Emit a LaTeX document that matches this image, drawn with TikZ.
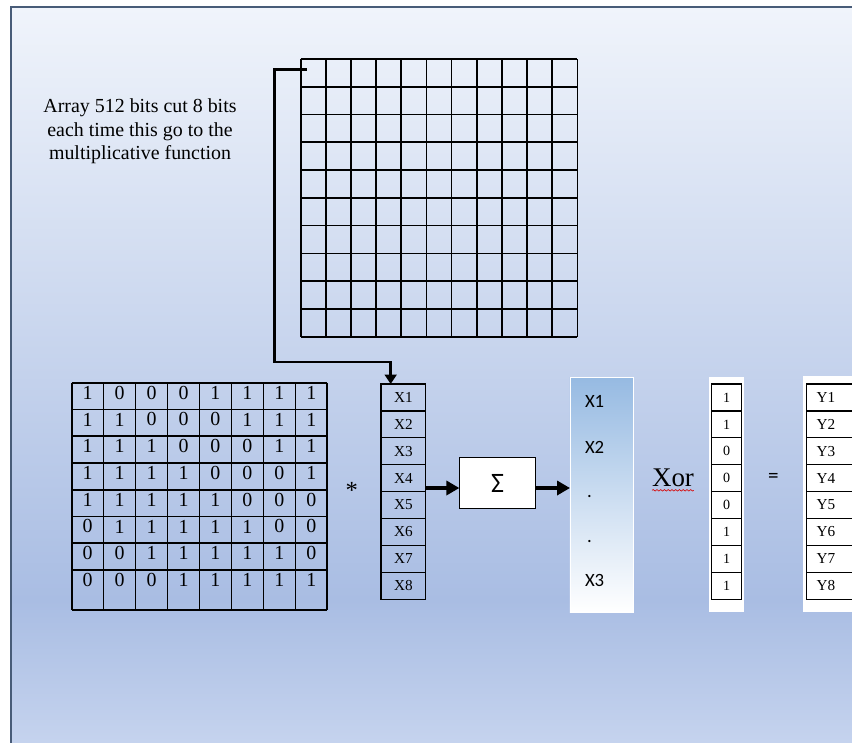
\documentclass[tikz,border=0pt]{standalone}
\usepackage{fontspec}
\setmainfont{Liberation Serif}
\newfontfamily\calibfont{Carlito}
\usetikzlibrary{arrows.meta,decorations.pathmorphing}

\definecolor{bgtop}{RGB}{240,244,251}
\definecolor{bgmid}{RGB}{169,189,227}
\definecolor{bgbot}{RGB}{197,211,238}
\definecolor{framecol}{RGB}{72,92,120}
\definecolor{acctop}{RGB}{150,186,226}

\begin{document}
\begin{tikzpicture}[x=0.03cm, y=-0.03cm,
  every node/.style={inner sep=0pt, outer sep=0pt},
  gridline/.style={line width=1.4pt},
  vcell/.style={draw, line width=1.1pt, minimum height=0.807cm},
  bit/.style={font=\fontsize{17}{19}\selectfont},
  tag/.style={font=\fontsize{13}{15}\selectfont},
  acclbl/.style={anchor=west, font=\calibfont\fontsize{16}{18}\selectfont},
  feed/.style={line width=2.2pt, -{Triangle[length=8pt, width=10pt]}},
  arr/.style={line width=2.6pt, -{Triangle[length=11pt, width=12pt]}}]
  \useasboundingbox (0,0) rectangle (852,742);
  \clip (0,0) rectangle (852,742);

  % Slide background
  \fill[white] (0,0) rectangle (852,742);
  \shade[top color=bgtop, bottom color=bgmid] (11,7) rectangle (870,600);
  \shade[top color=bgmid, bottom color=bgbot] (11,600) rectangle (870,742);
  \draw[framecol, line width=1.6pt] (11,760) -- (11,7) -- (870,7);

  % 512-bit array
  \foreach \k in {0,...,11}
    \draw[gridline] ({300.7+25.15*\k},59) -- ({300.7+25.15*\k},336.7);
  \foreach \k in {0,...,10}
    \draw[gridline] (300.7,{59+27.77*\k}) -- (577.3,{59+27.77*\k});
  \coordinate (cut) at (306.7,69.3);

  \node[align=center, font=\fontsize{17}{20}\selectfont] (note) at (140,131.5)
    {Array 512 bits cut 8 bits\\each time this go to the\\multiplicative function};

  % Bit matrix
  \foreach \k in {0,...,8}
    \draw[gridline] ({71.7+31.95*\k},382.7) -- ({71.7+31.95*\k},610);
  \foreach \k in {0,...,7}
    \draw[gridline] (71.7,{382.7+26.75*\k}) -- (327.3,{382.7+26.75*\k});
  \draw[gridline] (71.7,610) -- (327.3,610);
  \foreach \row [count=\r] in {{1,0,0,0,1,1,1,1},{1,1,0,0,0,1,1,1},
      {1,1,1,0,0,0,1,1},{1,1,1,1,0,0,0,1},{1,1,1,1,1,0,0,0},
      {0,1,1,1,1,1,0,0},{0,0,1,1,1,1,1,0},{0,0,0,1,1,1,1,1}}
    \foreach \b [count=\c] in \row
      \node[bit] (m\r-\c) at ({71.7+31.95*(\c-0.5)},{392.7+26.75*(\r-1)}) {\b};

  \node[font=\fontsize{21}{23}\selectfont] (times) at (351.7,490) {*};

  % Input vector
  \foreach \i in {1,...,8}
    \node[vcell, tag, minimum width=1.34cm] (x\i) at (403.35,{384+26.9*(\i-0.5)}) {X\i};

  % Sum block
  \node[draw, fill=white, line width=1.2pt, minimum width=2.29cm, minimum height=1.52cm,
    font=\calibfont\fontsize{24}{26}\selectfont] (sum) at (497.5,483) {Σ};
  \path ([yshift=-0.15cm]sum.west) coordinate (sin);
  \path ([yshift=-0.15cm]sum.east) coordinate (sout);

  % Result column
  \node[draw=white, line width=0.8pt, top color=acctop, bottom color=white,
    minimum width=1.9cm, minimum height=7.04cm] (acc) at (601.65,494.65) {};
  \node[acclbl] (a1) at (585,401.7) {X1};
  \node[acclbl] (a2) at (585,447.3) {X2};
  \node[acclbl] (a3) at (587,496.7) {.};
  \node[acclbl] (a4) at (587,541.7) {.};
  \node[acclbl] (a5) at (585,580) {X3};

  % Xor with key
  \node[font=\fontsize{23}{25}\selectfont] (xor) at (673,478) {Xor};
  \draw[red!85!black, line width=0.5pt, decorate,
    decoration={snake, amplitude=0.7pt, segment length=3.2pt}]
    ([yshift=-0.1cm]xor.south west) -- ([yshift=-0.1cm]xor.south east);
  \fill[white] (709.3,377.3) rectangle (744,612);
  \foreach \v [count=\i] in {1,1,0,0,0,1,1,1}
    \node[vcell, font=\fontsize{12}{14}\selectfont, minimum width=0.9cm]
      (o\i) at (726.7,{384+26.9*(\i-0.5)}) {\v};

  \node[font=\calibfont\fontsize{18}{20}\selectfont] (eq) at (773.3,478) {=};

  % Output vector
  \fill[white] (803.3,376) rectangle (870,612);
  \foreach \i in {1,...,8} {
    \draw[line width=1.1pt] (806.7,{384+26.9*(\i-1)}) rectangle (870,{384+26.9*\i});
    \node[tag] (y\i) at (826,{384+26.9*(\i-0.5)}) {Y\i};
  }

  % Connectors
  \draw[feed] (cut) -| (274.3,362) -| ([xshift=-0.38cm]x1.north);
  \draw[arr] (sin -| x4.east) -- (sin);
  \draw[arr] (sout) -- (sout -| acc.west);
\end{tikzpicture}
\end{document}
